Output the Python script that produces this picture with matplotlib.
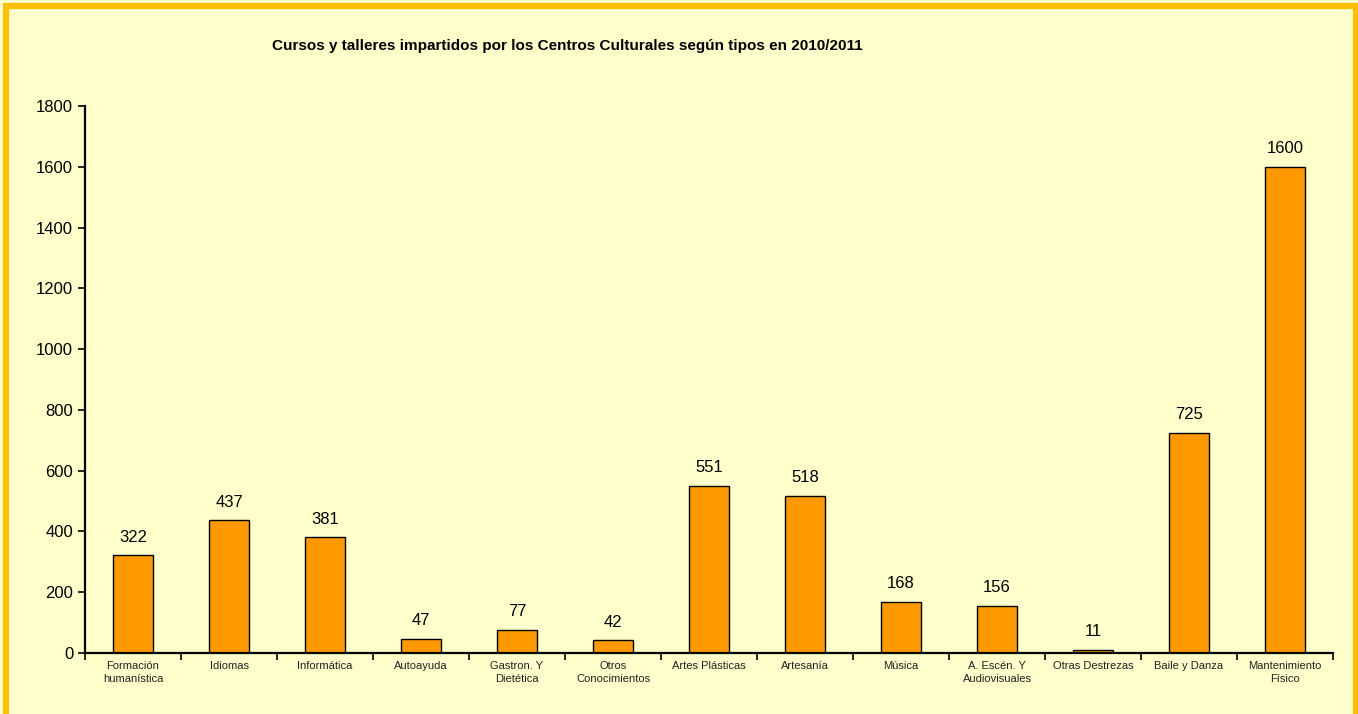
import numpy as np
import matplotlib.pyplot as plt
from matplotlib.patches import Rectangle

plt.rcParams['font.family'] = ['Liberation Sans', 'DejaVu Sans']

# data
categorias = ['Formación\nhumanística', 'Idiomas', 'Informática', 'Autoayuda',
              'Gastron. Y\nDietética', 'Otros\nConocimientos', 'Artes Plásticas',
              'Artesanía', 'Música', 'A. Escén. Y\nAudiovisuales', 'Otras Destrezas',
              'Baile y Danza', 'Mantenimiento\nFísico']
valores = [322, 437, 381, 47, 77, 42, 551, 518, 168, 156, 11, 725, 1600]
yticks = [0, 200, 400, 600, 800, 1000, 1200, 1400, 1600, 1800]

fig = plt.figure(figsize=(13.58, 7.14), dpi=100)
fig.patch.set_facecolor('#FFFFCC')
fig.patches.append(Rectangle((6/1358, -0.01), 1350/1358, 1 - 6/714 + 0.01,
                             transform=fig.transFigure, fill=False,
                             edgecolor='#FFC000', linewidth=4.5))

ax = fig.add_axes([0.0626, 0.0854, 0.919, 0.766])
ax.set_facecolor('#FFFFCC')

x = np.arange(len(valores))
bars = ax.bar(x, valores, width=0.41, color='#FF9900', edgecolor='black', linewidth=1)
for b, v in zip(bars, valores):
    ax.text(b.get_x() + b.get_width() / 2, v + 35, str(v), ha='center', va='bottom', fontsize=12)

ax.set_xlim(-0.5, len(valores) - 0.5)
ax.set_ylim(0, 1800)
ax.set_yticks(yticks)
ax.tick_params(axis='y', labelsize=12, length=5, width=1.2, direction='out')

# category labels at centres, tick marks at boundaries
ax.set_xticks(x)
ax.set_xticklabels(categorias, fontsize=8, color='#222222', linespacing=1.35)
ax.tick_params(axis='x', length=0, pad=6)
ax.set_xticks(np.arange(-0.5, len(valores)), minor=True)
ax.tick_params(axis='x', which='minor', length=5, width=1.2, direction='out')

for s in ['top', 'right']:
    ax.spines[s].set_visible(False)
for s in ['left', 'bottom']:
    ax.spines[s].set_linewidth(1.6)

fig.text(0.4177, 0.935, 'Cursos y talleres impartidos por los Centros Culturales según tipos en 2010/2011',
         ha='center', va='center', fontsize=11, fontweight='bold')

fig.savefig('out.png', dpi=100, facecolor=fig.get_facecolor())
